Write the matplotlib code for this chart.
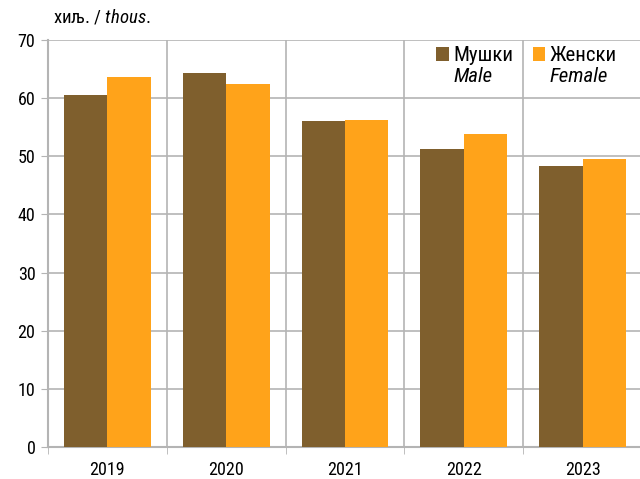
import numpy as np
import matplotlib
matplotlib.use('Agg')
import matplotlib.pyplot as plt

plt.rcParams['font.family'] = ['Roboto Condensed', 'DejaVu Sans']
plt.rcParams['mathtext.fontset'] = 'custom'
plt.rcParams['mathtext.it'] = 'Roboto Condensed:italic'
plt.rcParams['mathtext.rm'] = 'Roboto Condensed'

years = ['2019', '2020', '2021', '2022', '2023']
male = [60.6, 64.4, 56.0, 51.3, 48.3]
female = [63.6, 62.4, 56.2, 53.8, 49.5]
names = ['Мушки', 'Женски']
names_en = ['Male', 'Female']

c_male = '#7f5f2d'
c_female = '#ffa31a'
grid_c = '#b4b4b4'

fig = plt.figure(figsize=(6.4, 4.79), dpi=100)
ax = fig.add_axes([0.075, 0.0668, 0.928, 0.8497])

x = np.arange(len(years))
w = 0.365
ax.bar(x - w/2, male, w, color=c_male, label=names[0], zorder=3)
ax.bar(x + w/2, female, w, color=c_female, label=names[1], zorder=3)

ax.set_xlim(-0.5, len(years) - 0.5)
ax.set_ylim(0, 70)
ax.set_yticks(range(0, 71, 10))
ax.set_xticks(x)
ax.set_xticklabels(years)
ax.set_xticks(np.arange(-0.5, len(years), 1), minor=True)
ax.tick_params(axis='x', which='major', length=0, pad=10, labelsize=13)
ax.tick_params(axis='x', which='minor', length=5, color=grid_c, direction='out')
ax.tick_params(axis='y', length=5, color=grid_c, labelsize=13, pad=4)

ax.grid(axis='y', color=grid_c, lw=1.2, zorder=0)
ax.grid(axis='x', which='minor', color=grid_c, lw=1.2, zorder=0)
for s in ['top', 'right']:
    ax.spines[s].set_visible(False)
for s in ['left', 'bottom']:
    ax.spines[s].set_color(grid_c)
    ax.spines[s].set_linewidth(1.5)

leg = ax.legend(ncol=2, loc='upper left', bbox_to_anchor=(0.64, 1.005), frameon=False,
                fontsize=15, handlelength=0.6, handleheight=0.6, handletextpad=0.2,
                columnspacing=0.95, borderaxespad=0)

# italic english line under each legend label
fig.canvas.draw()
r = fig.canvas.get_renderer()
for t, en in zip(leg.get_texts(), names_en):
    bb = t.get_window_extent(r)
    fig.text(bb.x0 / fig.dpi / 6.4, (bb.y0 - 2) / fig.dpi / 4.79, en, fontsize=15,
             style='italic', va='top', ha='left')

fig.text(0.083, 0.945, 'хиљ. / $\\mathit{thous.}$', fontsize=13.5, va='bottom')

fig.savefig('out.png', dpi=100)
